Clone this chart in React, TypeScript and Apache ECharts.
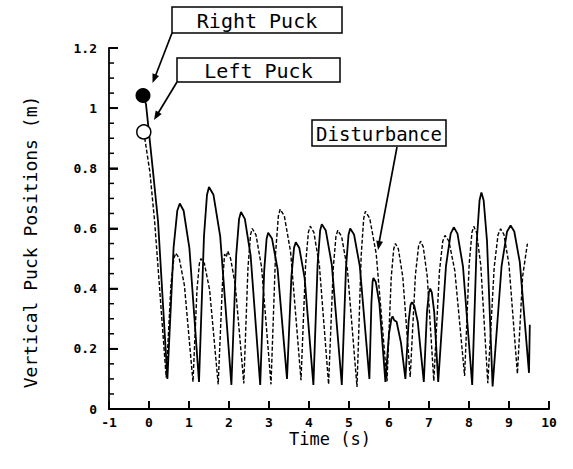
import React, { useEffect, useRef } from "react";
import * as echarts from "echarts";

const xTicks = { min: -1, max: 10, interval: 1 };
const yTicks = { min: 0, max: 1.2, interval: 0.2 };

const xTitle = "Time (s)";
const yTitle = "Vertical Puck Positions (m)";

// tick marks: [position, 1 = major / 0 = minor]
const yTickMarks: [number, number][] = [
  [0, 1], [0.05, 0], [0.1, 0], [0.15, 0], [0.2, 1], [0.25, 0], [0.3, 0], [0.35, 0],
  [0.4, 1], [0.45, 0], [0.5, 0], [0.55, 0], [0.6, 1], [0.65, 0], [0.7, 0], [0.75, 0],
  [0.8, 1], [0.85, 0], [0.9, 0], [0.95, 0], [1.0, 1], [1.05, 0], [1.1, 0], [1.15, 0], [1.2, 1],
];
const xTickMarks: number[] = [0, 1, 2, 3, 4, 5, 6, 7, 8, 9, 10];

const rightPuck: [number, number][] = [
  [-0.15, 1.042], [-0.075, 1.013], [0.1, 0.79], [0.226, 0.624], [0.46, 0.1],
  [0.615, 0.537], [0.708, 0.66], [0.77, 0.683], [0.866, 0.659], [1.01, 0.535], [1.25, 0.09],
  [1.375, 0.576], [1.45, 0.712], [1.5, 0.738], [1.612, 0.712], [1.78, 0.574], [2.06, 0.08],
  [2.18, 0.511], [2.252, 0.632], [2.3, 0.655], [2.396, 0.632], [2.54, 0.511], [2.78, 0.08],
  [2.88, 0.46], [2.94, 0.566], [2.98, 0.586], [3.074, 0.567], [3.215, 0.465], [3.45, 0.1],
  [3.56, 0.44], [3.626, 0.536], [3.67, 0.554], [3.758, 0.535], [3.89, 0.436], [4.11, 0.08],
  [4.215, 0.48], [4.278, 0.593], [4.32, 0.614], [4.42, 0.593], [4.57, 0.48], [4.82, 0.08],
  [4.925, 0.47], [4.988, 0.579], [5.03, 0.6], [5.126, 0.58], [5.27, 0.475], [5.51, 0.1],
  [5.56, 0.352], [5.59, 0.423], [5.61, 0.436], [5.67, 0.422], [5.76, 0.35], [5.91, 0.09],
  [6.0, 0.25], [6.06, 0.3], [6.09, 0.308], [6.13, 0.295], [6.19, 0.29], [6.3, 0.22], [6.41, 0.1],
  [6.49, 0.29], [6.538, 0.345], [6.57, 0.355], [6.63, 0.344], [6.72, 0.289], [6.87, 0.09],
  [6.95, 0.323], [6.998, 0.388], [7.03, 0.4], [7.07, 0.388], [7.13, 0.323], [7.23, 0.09],
  [7.425, 0.476], [7.542, 0.583], [7.62, 0.604], [7.712, 0.583], [7.85, 0.473], [8.08, 0.08],
  [8.195, 0.56], [8.264, 0.694], [8.31, 0.72], [8.366, 0.694], [8.45, 0.559], [8.59, 0.075],
  [8.815, 0.476], [8.95, 0.589], [9.04, 0.61], [9.132, 0.59], [9.27, 0.488], [9.5, 0.12], [9.52, 0.28],
];

const leftPuck: [number, number][] = [
  [-0.13, 0.921], [0.02, 0.79], [0.14, 0.625], [0.43, 0.105],
  [0.55, 0.415], [0.622, 0.501], [0.67, 0.518], [0.756, 0.501], [0.885, 0.411], [1.1, 0.09],
  [1.2, 0.398], [1.26, 0.484], [1.3, 0.5], [1.386, 0.483], [1.515, 0.396], [1.73, 0.082],
  [1.835, 0.413], [1.89, 0.515], [1.93, 0.505], [1.97, 0.525], [2.04, 0.5], [2.155, 0.414], [2.37, 0.085],
  [2.475, 0.471], [2.538, 0.579], [2.58, 0.6], [2.674, 0.579], [2.815, 0.471], [3.05, 0.082],
  [3.165, 0.519], [3.234, 0.641], [3.28, 0.664], [3.384, 0.641], [3.54, 0.522], [3.8, 0.096],
  [3.915, 0.48], [3.984, 0.587], [4.03, 0.608], [4.122, 0.587], [4.26, 0.477], [4.49, 0.082],
  [4.605, 0.466], [4.674, 0.574], [4.72, 0.594], [4.816, 0.573], [4.96, 0.464], [5.2, 0.073],
  [5.305, 0.511], [5.368, 0.634], [5.41, 0.657], [5.518, 0.634], [5.68, 0.516], [5.95, 0.092],
  [6.055, 0.436], [6.118, 0.532], [6.16, 0.55], [6.234, 0.532], [6.345, 0.439], [6.53, 0.106],
  [6.66, 0.445], [6.738, 0.54], [6.79, 0.558], [6.856, 0.539], [6.955, 0.442], [7.12, 0.093],
  [7.26, 0.456], [7.344, 0.558], [7.4, 0.577], [7.498, 0.558], [7.645, 0.46], [7.89, 0.11],
  [8.005, 0.483], [8.074, 0.587], [8.12, 0.607], [8.19, 0.586], [8.295, 0.477], [8.47, 0.086],
  [8.63, 0.471], [8.726, 0.579], [8.79, 0.599], [8.874, 0.58], [9.0, 0.479], [9.21, 0.117],
  [9.34, 0.44], [9.46, 0.55],
];

const labels = ["Right Puck", "Left Puck", "Disturbance"];

const MONO = "'DejaVu Sans Mono', monospace";

export default function App() {
  const ref = useRef<HTMLDivElement>(null);
  useEffect(() => {
    if (!ref.current) return;
    const chart = echarts.init(ref.current, undefined, { renderer: "svg" });
    const tickLabel = {
      color: "#000",
      fontFamily: MONO,
      fontWeight: "bold" as const,
      fontSize: 13,
    };
    const box = (x: number, y: number, w: number, h: number, text: string, fs: number) => ({
      type: "group",
      children: [
        {
          type: "rect",
          shape: { x, y, width: w, height: h },
          style: { fill: "#fff", stroke: "#000", lineWidth: 1.5 },
        },
        {
          type: "text",
          x: x + w / 2,
          y: y + h / 2 + 1,
          style: {
            text,
            fill: "#000",
            font: `${fs}px ${MONO}`,
            textAlign: "center",
            textVerticalAlign: "middle",
          },
        },
      ],
    });
    const arrow = (x1: number, y1: number, x2: number, y2: number, head: number[][]) => ({
      type: "group",
      children: [
        { type: "line", shape: { x1, y1, x2, y2 }, style: { stroke: "#000", lineWidth: 1.7 } },
        { type: "polygon", shape: { points: head }, style: { fill: "#000" } },
      ],
    });
    const baseGraphics: any[] = [
      {
        type: "text",
        x: 30,
        y: 242,
        rotation: Math.PI / 2,
        style: {
          text: yTitle,
          fill: "#000",
          font: `18px ${MONO}`,
          textAlign: "center",
          textVerticalAlign: "middle",
        },
      },
      {
        type: "text",
        x: 330,
        y: 439,
        style: {
          text: xTitle,
          fill: "#000",
          font: `17px ${MONO}`,
          textAlign: "center",
          textVerticalAlign: "middle",
        },
      },
      arrow(172, 33, 155, 77, [[152.5, 83], [159, 75.9], [152.5, 73.3]]),
      arrow(177, 82, 157, 115, [[154, 120], [161.7, 114.1], [155.7, 110.5]]),
      arrow(397, 147, 379, 243, [[378, 250], [383, 241.8], [376.2, 240.5]]),
      box(172, 7, 170, 26, labels[0], 20),
      box(177, 58, 163, 24, labels[1], 20),
      box(312, 120, 134, 26, labels[2], 19),
    ];
    const tickGraphics: any[] = [];
    const left = 109;
    const bottom = 409;
    const plotW = 573 - 24 - left;
    const plotH = bottom - 48;
    yTickMarks.forEach(([v, major]) => {
      const y = bottom - ((v - yTicks.min) / (yTicks.max - yTicks.min)) * plotH;
      tickGraphics.push({
        type: "line",
        silent: true,
        shape: { x1: left, y1: y, x2: left + (major ? 9 : 5), y2: y },
        style: { stroke: "#000", lineWidth: major ? 1.8 : 1.5 },
        z: 10,
      });
    });
    xTickMarks.forEach((t) => {
      const x = left + ((t - xTicks.min) / (xTicks.max - xTicks.min)) * plotW;
      tickGraphics.push({
        type: "line",
        silent: true,
        shape: { x1: x, y1: bottom, x2: x, y2: bottom - 8 },
        style: { stroke: "#000", lineWidth: 1.8 },
        z: 10,
      });
    });
    chart.setOption({
      animation: false,
      backgroundColor: "#fff",
      grid: { left, right: 24, top: 48, bottom: 469 - bottom },
      xAxis: {
        type: "value",
        min: xTicks.min,
        max: xTicks.max,
        interval: xTicks.interval,
        axisLine: { show: true, onZero: false, lineStyle: { color: "#000", width: 1.8 } },
        axisTick: { show: true, inside: true, length: 8, lineStyle: { color: "#000", width: 1.8 } },
        axisLabel: { ...tickLabel, margin: 7 },
        splitLine: { show: false },
      },
      yAxis: {
        type: "value",
        min: yTicks.min,
        max: yTicks.max,
        interval: yTicks.interval,
        axisLine: { show: true, onZero: false, lineStyle: { color: "#000", width: 1.8 } },
        axisTick: { show: true, inside: true, length: 9, lineStyle: { color: "#000", width: 1.8 } },
        axisLabel: { ...tickLabel, margin: 12 },
        splitLine: { show: false },
      },
      series: [
        {
          name: "Right Puck",
          type: "line",
          data: rightPuck,
          symbol: "none",
          lineStyle: { color: "#000", width: 1.8 },
          z: 3,
        },
        {
          name: "Left Puck",
          type: "line",
          data: leftPuck,
          symbol: "none",
          lineStyle: { color: "#000", width: 1.4, type: [4, 2] },
          z: 2,
        },
        {
          type: "scatter",
          data: [rightPuck[0]],
          symbol: "circle",
          symbolSize: 15,
          itemStyle: { color: "#000", opacity: 1 },
          z: 4,
        },
        {
          type: "scatter",
          data: [leftPuck[0]],
          symbol: "circle",
          symbolSize: 14,
          itemStyle: { color: "#fff", borderColor: "#000", borderWidth: 1.5, opacity: 1 },
          z: 4,
        },
      ],
      graphic: [...baseGraphics, ...tickGraphics],
    });
    return () => chart.dispose();
  }, []);
  return (
    <div
      ref={ref}
      style={{ position: "fixed", left: 0, top: 0, width: 573, height: 469, background: "#fff" }}
    />
  );
}
